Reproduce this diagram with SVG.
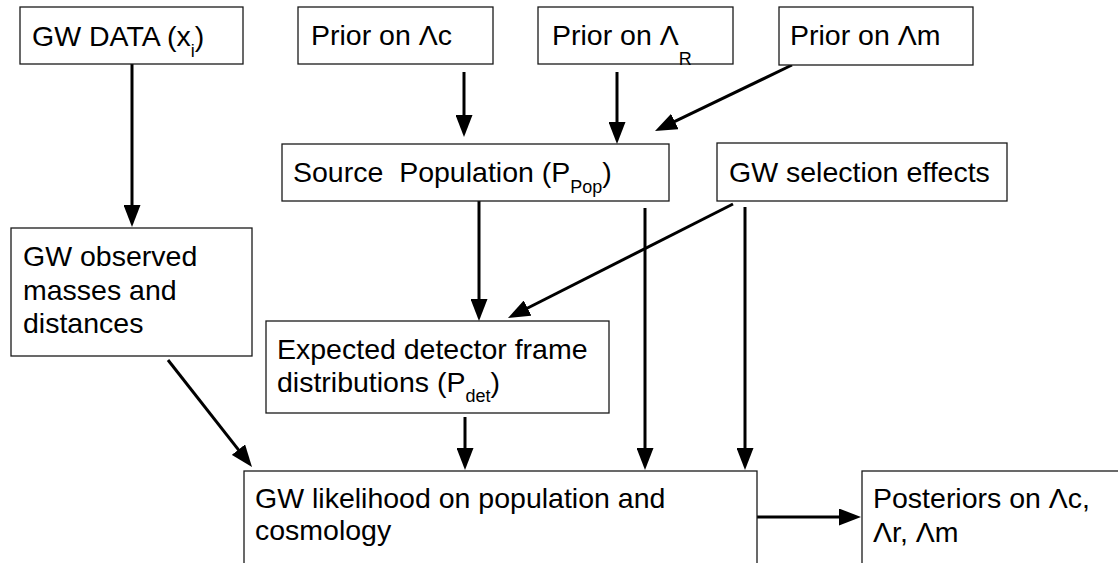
<svg xmlns="http://www.w3.org/2000/svg" width="1118" height="563" viewBox="0 0 1118 563">
<defs>
<style>
.box{fill:#fff;stroke:#1a1a1a;stroke-width:1.3}
.t{font-family:"Liberation Sans",Arial,sans-serif;font-size:28.5px;fill:#000}
.s{font-size:18px}
.c{stroke:#000;stroke-width:3;fill:none;marker-end:url(#ah)}
</style>
<marker id="ah" markerUnits="userSpaceOnUse" markerWidth="22" markerHeight="17" viewBox="0 0 22 17" refX="12" refY="8.5" orient="auto">
<path d="M0,0 L22,8.5 L0,17 z" fill="#000"/>
</marker>
</defs>
<rect width="1118" height="563" fill="#fff"/>
<g id="connectors">
<line class="c" x1="132" y1="64" x2="132" y2="217"/>
<line class="c" x1="464" y1="72" x2="464" y2="127"/>
<line class="c" x1="617" y1="72" x2="617" y2="134"/>
<line class="c" x1="792" y1="65" x2="664" y2="126.7"/>
<line class="c" x1="479" y1="201" x2="479" y2="311"/>
<line class="c" x1="645" y1="208" x2="645" y2="460"/>
<line class="c" x1="745" y1="207" x2="745" y2="460"/>
<line class="c" x1="733" y1="204" x2="516.9" y2="313.5"/>
<line class="c" x1="168" y1="360" x2="245.8" y2="459.1"/>
<line class="c" x1="465" y1="417" x2="465" y2="460"/>
<line class="c" x1="757" y1="517" x2="851" y2="517"/>
</g>
<g id="gw-data">
<rect class="box" x="20" y="7" width="223" height="57"/>
<text class="t" x="32" y="46">GW DATA (x<tspan class="s" dy="11">i</tspan><tspan dy="-11">)</tspan></text>
</g>
<g id="prior-c">
<rect class="box" x="298" y="7" width="195" height="57"/>
<text class="t" x="311" y="45">Prior on Λc</text>
</g>
<g id="prior-r">
<rect class="box" x="538" y="7" width="195" height="57"/>
<text class="t" x="552" y="45">Prior on Λ<tspan class="s" dy="20">R</tspan></text>
</g>
<g id="prior-m">
<rect class="box" x="779" y="7" width="194" height="58"/>
<text class="t" x="790" y="45">Prior on Λm</text>
</g>
<g id="source-pop">
<rect class="box" x="282" y="144" width="387" height="57"/>
<text class="t" x="293" y="182" xml:space="preserve">Source  Population (P<tspan class="s" dy="11">Pop</tspan><tspan dy="-11">)</tspan></text>
</g>
<g id="selection">
<rect class="box" x="717" y="143" width="290" height="58"/>
<text class="t" x="729" y="182">GW selection effects</text>
</g>
<g id="observed">
<rect class="box" x="11" y="228" width="241" height="128"/>
<text class="t" x="23" y="266">GW observed</text>
<text class="t" x="23" y="300">masses and</text>
<text class="t" x="23" y="333">distances</text>
</g>
<g id="expected">
<rect class="box" x="266" y="321" width="343" height="92"/>
<text class="t" x="277" y="359">Expected detector frame</text>
<text class="t" x="277" y="392">distributions (P<tspan class="s" dy="10">det</tspan><tspan dy="-10">)</tspan></text>
</g>
<g id="likelihood">
<rect class="box" x="244" y="471" width="513" height="110"/>
<text class="t" x="255" y="508">GW likelihood on population and</text>
<text class="t" x="255" y="540">cosmology</text>
</g>
<g id="posteriors">
<rect class="box" x="862" y="471" width="270" height="110"/>
<text class="t" x="873" y="508">Posteriors on Λc,</text>
<text class="t" x="873" y="542">Λr, Λm</text>
</g>
</svg>
